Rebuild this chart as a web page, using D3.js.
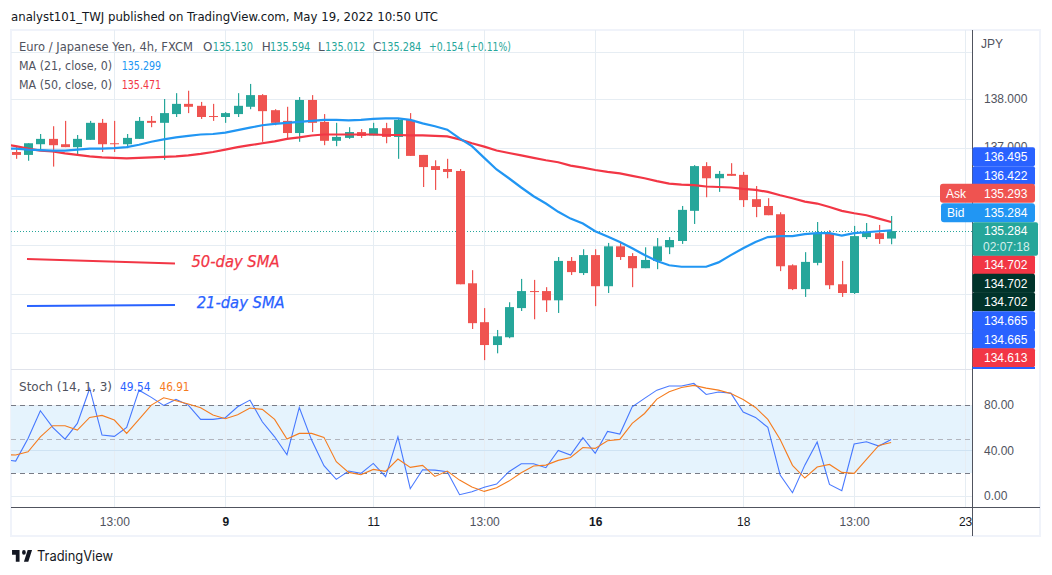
<!DOCTYPE html>
<html>
<head>
<meta charset="utf-8">
<script src="https://cdn.jsdelivr.net/npm/d3@7/dist/d3.min.js"></script>
<style>
html,body{margin:0;padding:0;background:#fff;}
svg{display:block;}
text{font-family:"DejaVu Sans",sans-serif;}
.axis text{font-family:"Liberation Sans",Arial,sans-serif;}
</style>
</head>
<body>
<div id="chart"></div>
<script>
// ---------- data ----------
const opens = [136.91,136.85,137.07,137.18,137.07,137.01,137.16,137.51,137.09,137.07,137.18,137.55,137.51,137.69,137.90,137.86,137.65,137.63,137.69,137.84,138.08,137.77,137.55,137.30,137.98,137.53,137.14,
137.20,137.32,137.25,137.40,137.22,137.57,136.85,136.62,136.56,136.52,134.21,133.41,132.94,133.10,133.70,134.05,134.05,133.86,134.67,134.42,134.79,134.15,134.97,134.77,134.52,134.67,
134.95,135.08,135.70,136.62,136.37,136.46,136.44,135.94,135.80,135.63,134.58,134.09,134.63,135.24,134.19,134.01,135.16,135.24,135.130];
const highs = [137.02,137.09,137.28,137.44,137.55,137.26,137.55,137.59,137.55,137.28,137.63,137.65,138.00,138.12,138.17,137.94,137.90,137.73,138.12,138.31,138.10,137.79,137.84,138.04,138.08,137.69,137.51,
137.42,137.38,137.51,137.51,137.61,137.71,136.85,136.74,136.77,136.56,134.48,133.70,133.25,133.82,134.30,134.28,134.13,134.75,134.75,134.91,134.91,135.04,135.06,134.83,134.95,135.14,
135.16,135.80,136.64,136.70,136.52,136.68,136.50,136.21,135.96,135.67,134.60,134.85,135.47,135.30,134.67,135.39,135.45,135.41,135.594];
const lows = [136.77,136.73,136.95,136.61,137.01,136.83,137.16,136.91,136.91,136.99,137.18,137.42,136.75,137.63,137.71,137.59,137.55,137.51,137.63,137.79,137.12,137.46,137.18,137.12,137.32,137.05,137.03,
137.18,137.20,137.25,137.09,136.77,136.83,136.19,136.13,136.37,134.19,133.27,132.63,132.77,133.08,133.64,133.47,133.62,133.60,134.38,134.38,133.74,134.01,134.69,134.13,134.52,134.50,
134.81,135.02,135.43,135.98,136.09,136.42,135.78,135.57,135.61,134.46,134.07,133.93,134.58,134.09,133.93,133.99,135.12,135.02,135.012];
const closes = [136.85,137.09,137.18,137.05,137.01,137.18,137.51,137.07,137.07,137.20,137.55,137.51,137.71,137.90,137.84,137.63,137.63,137.71,137.86,138.08,137.75,137.51,137.30,137.98,137.51,137.14,137.22,
137.32,137.24,137.40,137.22,137.57,136.83,136.60,136.54,136.50,134.19,133.39,132.94,133.12,133.72,134.05,134.03,133.86,134.67,134.44,134.79,134.15,134.97,134.75,134.52,134.69,134.97,
135.10,135.72,136.62,136.37,136.46,136.42,135.92,135.78,135.61,134.56,134.09,134.65,135.24,134.17,134.01,135.18,135.26,135.12,135.284];
// moving averages and stochastic start one bar before the first candle
const ma21 = [136.98,136.98,136.96,136.95,136.94,136.94,136.96,136.98,136.98,136.99,137.01,137.06,137.12,137.17,137.21,137.24,137.27,137.28,137.31,137.36,137.41,137.46,137.49,137.51,137.53,137.55,137.57,137.57,
137.56,137.57,137.59,137.60,137.60,137.57,137.50,137.44,137.37,137.19,137.03,136.79,136.55,136.37,136.18,136.00,135.85,135.68,135.54,135.44,135.28,135.17,135.06,134.93,134.79,134.67,
134.58,134.55,134.55,134.55,134.64,134.79,134.93,135.06,135.16,135.18,135.18,135.22,135.24,135.24,135.19,135.24,135.26,135.28,135.299];
const ma50 = [137.07,137.03,136.98,136.94,136.92,136.88,136.85,136.82,136.80,136.79,136.78,136.79,136.80,136.81,136.82,136.84,136.87,136.91,136.96,137.01,137.05,137.09,137.13,137.18,137.21,137.25,137.27,137.27,
137.27,137.27,137.27,137.26,137.26,137.25,137.25,137.24,137.23,137.17,137.09,137.02,136.94,136.89,136.84,136.79,136.74,136.70,136.63,136.59,136.54,136.50,136.47,136.42,136.37,136.31,
136.26,136.24,136.23,136.20,136.19,136.18,136.15,136.13,136.09,136.02,135.96,135.89,135.85,135.78,135.70,135.65,135.61,135.54,135.471];
const stochK = [32,30.6,50.6,75,60.3,50,63.8,94.7,53.5,52.4,60.3,93.2,86.8,79.7,85,80,67.4,67.4,68.8,78.5,84.4,65.3,52,36.2,77.9,49.1,26.5,14.4,
21.8,19.7,28.5,16.8,52,6.2,22.9,22.6,21.2,0.9,3.5,7.4,10.3,21.2,28.2,28.2,24.7,40,35.9,51.2,37.4,56.8,54.4,78.5,85.9,93.2,
96.8,96.8,99.1,89.4,91.5,90.6,73.8,69.1,60.3,18.2,2.6,27,47.4,10,4.4,45.6,47.6,43.8,49.54];
const stochD = [36.2,35.9,38.8,52,61.8,61.8,58,69.1,70.9,66.8,55,67.4,80,86.5,83.8,80.9,77.6,71.2,68,71.5,77.4,76.2,67.4,50,55,55,51.5,30,
20.6,18.5,23.2,21.5,32.4,25,26.8,17,21.8,13.8,7.6,3.8,7.1,12.9,20.3,26.2,27,31.2,33.8,42.6,41.8,48.5,49.7,63.8,72.6,85.3,
91.8,95.6,97.4,95,93.2,90.3,85,77.9,67.4,49.7,26.8,15.6,25.3,27.6,20.6,19.7,32,44.4,46.91];
const timeTickBars = [8,17,29,38,47,59,68,77];
const timeTickLabels = ["13:00","9","11","13:00","16","18","13:00","23"];
const timeTickBold = ["9","11","16","18","23"];
const priceGrid = [138.97,138,137,136,135,134,133.18];
const priceTicks = [138];
const stochTicks = [80,40,0];
const stochDashes = [80,50,20];
const sideLabels = ["136.495","136.422","134.702","134.702","134.702","134.665","134.665","134.613"];
const sideKinds = ["blue","blue","red","dark","dark","blue","blue","red"];
const sideCentres = [156.7,175.7,264.7,283.3,301.7,320.7,339.3,357.7];

// ---------- layout ----------
const W=1052,H=575,L=11,Rp=972,Re=1040,T=30,Bm=369,Bp=507,Bo=536;
const svg=d3.select("#chart").append("svg").attr("width",W).attr("height",H);
const defs=svg.append("defs");
defs.append("clipPath").attr("id","clipMain").append("rect").attr("x",L).attr("y",T).attr("width",Rp-L).attr("height",Bm-T);
defs.append("clipPath").attr("id","clipStoch").append("rect").attr("x",L).attr("y",Bm).attr("width",Rp-L).attr("height",Bp-Bm);
defs.append("clipPath").attr("id","clipTime").append("rect").attr("x",L).attr("y",Bp).attr("width",Rp-L).attr("height",Bo-Bp);

const x=d3.scaleLinear().domain([0,77]).range([15.7,15.7+12.33*77]);
const y=d3.scaleLinear().domain([134,138]).range([293.5,99]);
const s=d3.scaleLinear().domain([0,100]).range([495.7,382.45]);

const GRID="#e6edf3",FRAME="#f0f3fa",AXIS="#50535e",TXT="#50535e";
const up="#26a69a",down="#ef5350";

// frame
svg.append("rect").attr("x",L).attr("y",T).attr("width",Re-L).attr("height",Bo-T)
  .attr("fill","none").attr("stroke",FRAME).attr("stroke-width",2);

// band
svg.append("rect").attr("x",L).attr("width",Rp-L).attr("y",s(80)).attr("height",s(20)-s(80)).attr("fill","#e5f3fd");

// grids
const grid=svg.append("g").attr("shape-rendering","crispEdges");
grid.selectAll(".h").data(priceGrid).join("line")
  .attr("x1",L).attr("x2",Rp).attr("y1",d=>Math.round(y(d))+.5).attr("y2",d=>Math.round(y(d))+.5)
  .attr("stroke",GRID);
grid.selectAll(".v").data(timeTickBars).join("line")
  .attr("x1",d=>Math.round(x(d))+.5).attr("x2",d=>Math.round(x(d))+.5).attr("y1",T).attr("y2",Bp)
  .attr("stroke",GRID);
grid.selectAll(".sh").data(stochTicks).join("line")
  .attr("x1",L).attr("x2",Rp).attr("y1",d=>Math.round(s(d))+.5).attr("y2",d=>Math.round(s(d))+.5)
  .attr("stroke",d=>d===40?"#cfe3f3":GRID);
grid.selectAll(".sd").data(stochDashes).join("line")
  .attr("x1",L).attr("x2",Rp).attr("y1",d=>Math.round(s(d))+.5).attr("y2",d=>Math.round(s(d))+.5)
  .attr("stroke",d=>d===50?"#b2b5be":"#787b86").attr("stroke-dasharray","5 4");
svg.append("line").attr("x1",L).attr("x2",Rp).attr("y1",Bm+.5).attr("y2",Bm+.5).attr("stroke","#e0e3eb").attr("shape-rendering","crispEdges");

// last price line
svg.append("line").attr("x1",L).attr("x2",Rp).attr("y1",Math.round(y(closes[closes.length-1]))+.5).attr("y2",Math.round(y(closes[closes.length-1]))+.5)
  .attr("stroke",up).attr("stroke-dasharray","1 2").attr("shape-rendering","crispEdges");

// candles
const main=svg.append("g").attr("clip-path","url(#clipMain)");
const bars=d3.range(opens.length);
const col=i=>closes[i]>=opens[i]?up:down;
main.selectAll(".w").data(bars).join("rect")
  .attr("x",i=>Math.round(x(i))).attr("width",1.2)
  .attr("y",i=>y(highs[i])).attr("height",i=>y(lows[i])-y(highs[i]))
  .attr("fill",col);
main.selectAll(".b").data(bars).join("rect")
  .attr("x",i=>Math.round(x(i))-4).attr("width",9)
  .attr("y",i=>y(Math.max(opens[i],closes[i])))
  .attr("height",i=>Math.max(1,Math.abs(y(opens[i])-y(closes[i]))))
  .attr("fill",col);

// lines
const lineFor=sc=>d3.line().x((d,i)=>x(i-1)).y(d=>sc(d));
main.append("path").attr("d",lineFor(y)(ma50)).attr("fill","none").attr("stroke","#f23645").attr("stroke-width",2.2);
main.append("path").attr("d",lineFor(y)(ma21)).attr("fill","none").attr("stroke","#2196f3").attr("stroke-width",2.2);

const st=svg.append("g").attr("clip-path","url(#clipStoch)");
st.append("path").attr("d",lineFor(s)(stochK)).attr("fill","none").attr("stroke","#2962ff").attr("stroke-opacity",.85).attr("stroke-width",1.1);
st.append("path").attr("d",lineFor(s)(stochD)).attr("fill","none").attr("stroke","#f57c1f").attr("stroke-width",1.1);

// drawn annotations
svg.append("line").attr("x1",27).attr("y1",259).attr("x2",175).attr("y2",263.5).attr("stroke","#f23645").attr("stroke-width",1.8);
svg.append("line").attr("x1",27).attr("y1",306).attr("x2",175).attr("y2",305).attr("stroke","#2962ff").attr("stroke-width",1.8);
const note=(xp,yp,str,fill)=>svg.append("text").attr("x",xp).attr("y",yp).attr("fill",fill).attr("stroke",fill).attr("stroke-width",.25)
  .attr("font-size",16).attr("font-style","italic").attr("textLength",88).attr("lengthAdjust","spacingAndGlyphs").text(str);
note(191.5,267.3,"50-day SMA","#f23645");
note(196.7,308,"21-day SMA","#2962ff");

// axes
svg.append("line").attr("x1",L).attr("x2",Re).attr("y1",Bp+.5).attr("y2",Bp+.5).attr("stroke",AXIS).attr("shape-rendering","crispEdges");
svg.append("line").attr("x1",Rp+.5).attr("x2",Rp+.5).attr("y1",T).attr("y2",Bo).attr("stroke",AXIS).attr("shape-rendering","crispEdges");

const tAxis=d3.axisBottom(x).tickValues(timeTickBars).tickSize(0).tickPadding(10).tickFormat((d,i)=>timeTickLabels[i]);
const tg=svg.append("g").attr("class","axis").attr("clip-path","url(#clipTime)").append("g").attr("transform",`translate(0,${Bp})`).call(tAxis);
tg.select(".domain").remove();
tg.selectAll("text").attr("font-size",12).attr("fill",function(d,i){return timeTickBold.includes(timeTickLabels[i])?"#131722":"#50535e";})
  .attr("font-weight",(d,i)=>["9","16"].includes(timeTickLabels[i])?"bold":"normal");

const pAxis=d3.axisRight(y).tickValues(priceTicks).tickSize(0).tickPadding(12).tickFormat(d3.format(".3f"));
const pg=svg.append("g").attr("class","axis").attr("transform",`translate(${Rp},0)`).call(pAxis);
pg.select(".domain").remove();
pg.selectAll("text").attr("font-size",12).attr("fill",TXT);
const sAxis=d3.axisRight(s).tickValues(stochTicks).tickSize(0).tickPadding(12).tickFormat(d3.format(".2f"));
const sg=svg.append("g").attr("class","axis").attr("transform",`translate(${Rp},0)`).call(sAxis);
sg.select(".domain").remove();
sg.selectAll("text").attr("font-size",12).attr("fill",TXT);
svg.append("text").attr("x",981).attr("y",48).attr("font-size",12).attr("fill",TXT).style("font-family","'Liberation Sans',Arial,sans-serif").text("JPY");

// partially hidden 137.000 tick behind labels
svg.append("text").attr("x",984).attr("y",151).attr("font-size",12).attr("fill",TXT).style("font-family","'Liberation Sans',Arial,sans-serif").text("137.000");

// side price labels
const kindCol={blue:"#2962ff",red:"#f23645",dark:"#00332a"};
const labelH=19;
const side=svg.append("g");
side.selectAll("rect.s").data(sideLabels).join("rect")
  .attr("x",Rp+.5).attr("width",62.5).attr("y",(d,i)=>sideCentres[i]-labelH/2).attr("height",labelH).attr("rx",2)
  .attr("fill",(d,i)=>kindCol[sideKinds[i]]);
side.append("rect").attr("x",Rp+.5).attr("width",62.5).attr("y",367).attr("height",2).attr("fill",kindCol.blue);
svg.selectAll("text.sl").data(sideLabels).join("text").attr("class","sl")
  .attr("x",984).attr("y",(d,i)=>sideCentres[i]+4.3).attr("font-size",12).attr("fill","#fff")
  .style("font-family","'Liberation Sans',Arial,sans-serif").text(d=>d);

function tag(x0,w,yc,h,fill,left,val,valX){
  svg.append("rect").attr("x",x0).attr("y",yc-h/2).attr("width",w).attr("height",h).attr("rx",3).attr("fill",fill);
  if(left) svg.append("text").attr("x",x0+6).attr("y",yc+4.3).attr("font-size",12).attr("fill","#fff").style("font-family","'Liberation Sans',Arial,sans-serif").text(left);
  svg.append("text").attr("x",valX).attr("y",yc+4.3).attr("font-size",12).attr("fill","#fff").style("font-family","'Liberation Sans',Arial,sans-serif").text(val);
}
tag(940,95,193.3,19,"#ef5350","Ask","135.293",984);
tag(941,94,212.7,19,"#2196f3","Bid","135.284",984);
svg.append("rect").attr("x",Rp+.5).attr("y",222.3).attr("width",65.5).attr("height",33.4).attr("rx",2).attr("fill",up);
svg.append("text").attr("x",984).attr("y",235).attr("font-size",12).attr("fill","#fff").style("font-family","'Liberation Sans',Arial,sans-serif").text("135.284");
svg.append("text").attr("x",983).attr("y",251).attr("font-size",12).attr("fill","#d4eeeb").style("font-family","'Liberation Sans',Arial,sans-serif").text("02:07:18");

// text: each run is fitted to the width it has in the reference
const t=(xp,yp,str,fill,len)=>{
  const e=svg.append("text").attr("x",xp).attr("y",yp).attr("fill",fill).attr("font-size",12).text(str);
  if(len) e.attr("textLength",len).attr("lengthAdjust","spacingAndGlyphs");
  return e;
};
t(11,21,"analyst101_TWJ published on TradingView.com, May 19, 2022 10:50 UTC","#131722",427);
t(19,51,"Euro / Japanese Yen, 4h, FXCM",TXT,174);
t(203,51,"O",TXT); t(212.7,51,"135.130",up,40.3);
t(261.7,51,"H",TXT); t(270,51,"135.594",up,40.3);
t(318,51,"L",TXT); t(325,51,"135.012",up,40.3);
t(373,51,"C",TXT); t(381,51,"135.284",up,40.3);
t(429,51,"+0.154 (+0.11%)",up,82);
t(19,70,"MA (21, close, 0)",TXT,93); t(121.7,70,"135.299","#2196f3",39.5);
t(19,89,"MA (50, close, 0)",TXT,93); t(121.7,89,"135.471","#f23645",39.5);
t(19,391,"Stoch (14, 1, 3)",TXT,93); t(120,391,"49.54","#2962ff",30.5); t(159.5,391,"46.91","#f57c1f",30);

// logo
svg.append("path").attr("transform","translate(10.8,545.5) scale(.625,.77)").attr("fill","#131722")
  .attr("d","M14 6H2v6h6v9h6V6zm14 15h-7l6-15h7l-6 15zm-7-9a3 3 0 1 0 0-6 3 3 0 0 0 0 6z");
svg.append("text").attr("x",37).attr("y",560.5).attr("font-size",14).attr("fill","#131722").attr("textLength",76).attr("lengthAdjust","spacingAndGlyphs")
  .style("font-family","Inter,'Liberation Sans',sans-serif").text("TradingView");
</script>
</body>
</html>
